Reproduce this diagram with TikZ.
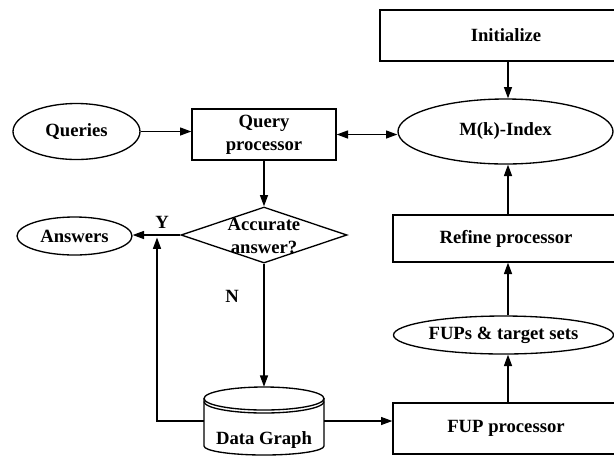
\documentclass[tikz,border=0pt]{standalone}
\usepackage{fontspec}
\setmainfont{Liberation Serif}
\usetikzlibrary{shapes.geometric,arrows.meta,calc}
\begin{document}
\begin{tikzpicture}[x=0.75pt,y=-0.75pt,
  every node/.style={font=\fontsize{14}{17.5}\selectfont\bfseries, inner sep=0pt, align=center},
  box/.style={draw, line width=1pt, rectangle},
  oval/.style={draw, line width=1pt, ellipse},
  decide/.style={draw, line width=1pt, diamond},
  arr/.style={line width=1pt, -{Triangle[length=8.5pt,width=6pt]}},
  dbl/.style={line width=1pt, {Triangle[length=8.5pt,width=6pt]}-{Triangle[length=8.5pt,width=6pt]}},
  wire/.style={line width=1pt}
]
\useasboundingbox (0,0) rectangle (614,455);
\clip (0,0) rectangle (614,455);

% left column
\node[oval, minimum width=95.25pt, minimum height=42pt] (q) at (76.5,131.5) {Queries};
\node[oval, minimum width=86.25pt, minimum height=28.5pt] (ans) at (74.5,236) {Answers};

% middle column
\node[box, minimum width=108pt, minimum height=38.25pt] (qp) at (264,134.5) {Query\\processor};
\node[decide, minimum width=124.5pt, minimum height=42pt] (acc) at (264,235) {};
\node (acct) at (264,236) {Accurate\\answer?};
\node[minimum width=90pt, minimum height=51pt] (dg) at (264,421) {};
\node (dgt) at (264,440) {Data Graph};

% data graph cylinder
\draw[wire] (264,398.5) ellipse [x radius=60, y radius=11.5];
\draw[wire] (204,401.5) arc[start angle=180, end angle=0, x radius=60, y radius=11.5];
\draw[wire] (204,398.5) -- (204,446)
  arc[start angle=180, end angle=0, x radius=60, y radius=9] -- (324,398.5);

% right column
\coordinate (colx) at (508,0);
\node[box, minimum width=189pt, minimum height=38.25pt] (init) at (506,35.5) {Initialize};
\node[oval, minimum width=161.25pt, minimum height=48.75pt] (mk) at (505.5,131.5) {M(k)-Index};
\node[box, minimum width=169.5pt, minimum height=35.25pt] (ref) at (506,238.5) {Refine processor};
\node[oval, minimum width=165pt, minimum height=28.5pt] (fups) at (503.5,335) {FUPs \& target sets};
\node[box, minimum width=169.5pt, minimum height=38.25pt] (fup) at (506,428.5) {FUP processor};

% branch labels
\node (ylab) at (162,222) {Y};
\node (nlab) at (232,296) {N};
\coordinate (yend) at (157,237.5);

% connectors
\draw[arr] (q.east) -- (q.east -| qp.west);
\draw[dbl] (qp.east) -- (qp.east -| mk.west);
\draw[arr] (qp.south) -- (acc.north);
\draw[arr] (acc.west) -- (acc.west -| ans.east);
\draw[arr] (acc.south) -- (dg.north);
\draw[arr] (dg.west) -| (yend);
\draw[arr] (dg.east) -- (dg.east -| fup.west);
\draw[arr] (init.south -| colx) -- (mk.north -| colx);
\draw[arr] (ref.north -| colx) -- (mk.south -| colx);
\draw[arr] (fups.north -| colx) -- (ref.south -| colx);
\draw[arr] (fup.north -| colx) -- (fups.south -| colx);
\end{tikzpicture}
\end{document}
